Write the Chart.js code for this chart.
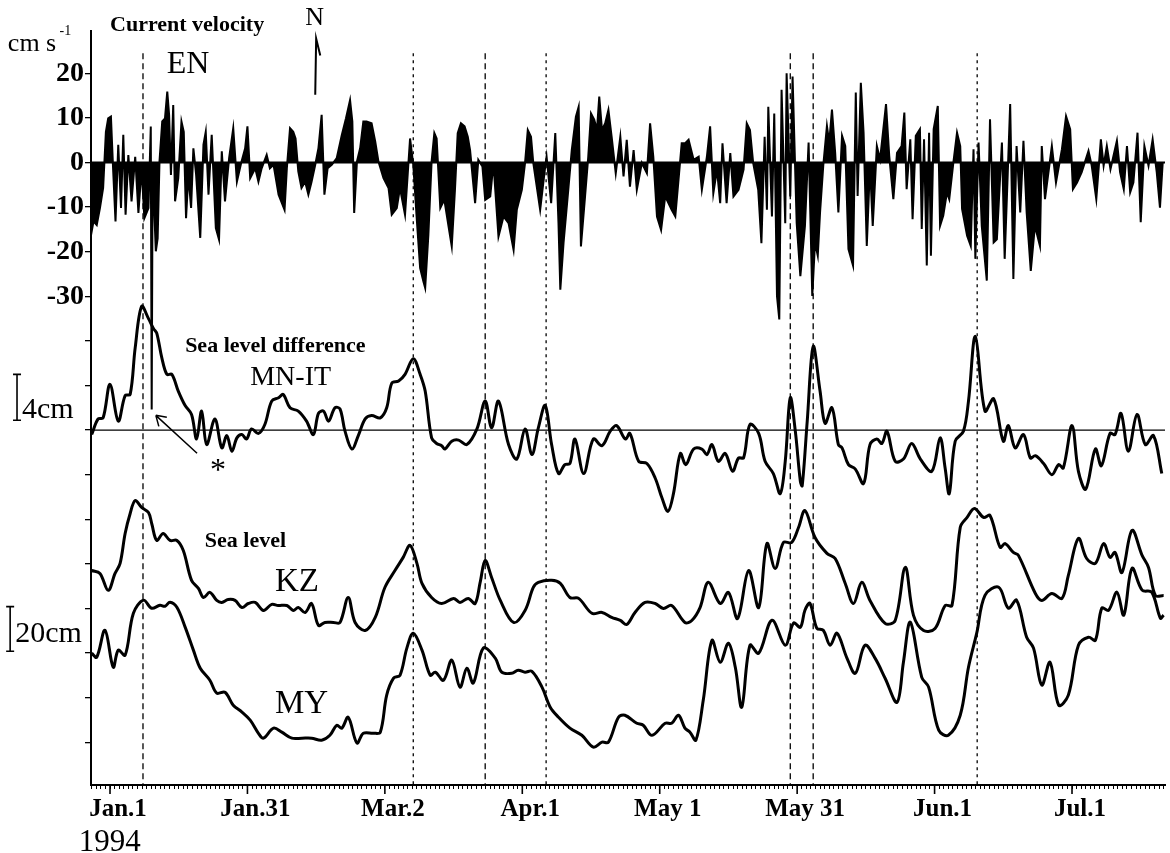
<!DOCTYPE html>
<html>
<head>
<meta charset="utf-8">
<script src="https://cdn.jsdelivr.net/npm/chart.js@4.4.0/dist/chart.umd.min.js"></script>
<style>
  html, body { margin: 0; padding: 0; background: #fff; }
  canvas { display: block; }
</style>
</head>
<body>
<canvas id="c" width="1170" height="853"></canvas>
<script>
// x = days from Jan.1 1994, y axis in cm/s (velocity panel); the lower panels are
// offset/scaled into the same axis (4 cm of MN-IT = 20 cm of sea level = 10 cm/s)

// tick labels on the time axis (every 30 days, as printed on the figure)
const tickDays = [0, 30, 60, 90, 120, 150, 180, 210];
const tickLabels = ['Jan.1', 'Jan.31', 'Mar.2', 'Apr.1', 'May 1', 'May 31', 'Jun.1', 'Jul.1'];
const yTickMarks = [20, 10, 0, -10, -20, -30, -40, -50, -60, -70, -80, -90, -100, -110, -120, -130];
const yTickLabels = [20, 10, 0, -10, -20, -30];

// dashed event lines (days)
const eventDays = [7.2, 66.2, 81.9, 95.2, 148.5, 153.5, 189.3];

// current velocity EN (cm/s), read at the spikes
const velDay = [-4.4,-3.6,-2.9,-2.2,-1.5,-0.9,-0.4,0.2,0.7,1.2,1.8,2.4,2.9,3.4,4.0,4.7,5.5,6.2,6.9,7.5,8.4,8.9,9.1,9.3,10.0,10.4,10.8,11.4,12.0,12.5,12.9,13.3,13.8,14.2,14.9,15.6,16.1,16.6,17.1,17.7,18.2,18.8,19.7,20.4,20.9,21.5,22.2,23.1,23.8,24.4,25.1,26.0,26.9,27.7,28.7,29.5,30.0,30.6,31.7,32.4,33.1,34.2,34.9,35.7,36.8,38.1,38.6,39.3,40.0,40.5,41.1,41.8,42.6,43.3,44.0,44.8,45.5,46.2,46.8,47.5,48.4,49.5,50.6,51.5,52.4,52.9,53.3,53.9,54.6,55.3,56.0,57.1,57.9,58.6,59.7,60.8,61.5,62.6,63.3,64.4,65.5,66.2,67.0,67.7,68.4,68.8,69.5,70.2,70.8,71.3,72.1,72.8,
  73.1,73.9,74.6,75.3,75.9,76.6,77.4,78.1,78.6,79.7,80.4,81.3,81.9,83.0,83.7,84.8,85.9,87.0,88.1,88.8,89.9,90.6,91.2,91.9,92.4,93.9,95.0,95.3,96.3,97.2,97.9,98.3,99.0,100.1,100.8,101.7,102.3,102.8,103.7,104.4,105.0,105.7,106.3,106.8,107.4,108.1,108.8,109.5,110.4,111.4,112.1,112.8,113.5,114.3,115.0,116.1,117.2,117.9,118.6,119.4,120.3,121.2,121.9,122.6,123.4,124.1,124.8,125.5,126.3,127.4,128.5,129.2,130.3,131.0,131.7,132.5,133.2,133.7,134.6,135.4,136.1,137.2,138.3,139.0,139.7,140.4,141.5,142.2,142.9,143.4,143.7,144.5,145.0,145.6,146.1,146.6,147.4,147.7,148.5,149.0,149.9,150.7,
  151.7,152.5,153.3,153.9,154.5,155.0,155.7,156.5,157.0,157.6,158.3,159.0,159.8,160.5,161.2,162.2,162.8,163.2,163.9,164.5,165.2,165.9,166.5,167.4,168.1,169.4,170.1,171.0,171.8,172.8,173.4,173.9,174.7,175.2,175.9,176.8,177.2,177.7,178.3,178.8,179.2,179.8,180.7,181.2,181.9,182.7,183.2,184.1,184.9,185.6,186.0,187.1,187.9,188.5,188.9,189.6,190.3,191.4,192.1,192.9,193.6,194.7,195.3,195.9,196.5,197.2,197.9,198.7,199.4,200.1,201.0,201.9,203.0,203.4,204.1,205.6,206.5,207.8,208.7,209.6,210.2,211.1,212.1,213.6,214.3,215.3,216.3,216.9,217.6,218.4,219.8,220.5,221.3,222.0,222.7,223.4,224.3,225.0,225.8,226.7,227.6,228.5,229.2,229.8];
const velCms = [-17.7,-13.2,-14,-10.2,-5.7,6.9,9.9,10.3,-2,-13.2,4,-10.2,6.2,-11.7,1.7,-8.7,1.3,-11.3,-1.3,-12.5,-10.2,8.1,-55.4,-1.3,-19.9,-17,0.2,9.2,9.9,15.9,10.7,-2.8,12.9,-8.7,-3.5,9.2,6.9,-12.5,-2.8,-10.2,3.2,-2.8,-16.9,4,6.9,-7.2,6.2,-14.7,-17.3,2.5,-8.7,1,7.7,-4.3,0.2,3.2,8.1,-3.5,-1.3,-4.3,-1.3,1.7,-1.3,-0.5,-7.2,-10.6,-1.3,7.7,6.9,5.4,-2,-5.7,-4.3,-7.2,-4.3,-0.5,3.2,10.7,-7.2,-1.3,-0.5,1,6.2,9.9,14,9.2,-11.3,0.2,3.2,9.2,9.2,8.8,4.7,0.2,-3.5,-5.7,-11.7,-10.2,-5.7,-11.7,5.4,-0.5,-13.2,-23.7,-26.6,-28.1,-16.2,0.2,6.6,5.4,-10.2,-8.7,
  -9.1,-14.3,-18.8,-6.1,6.6,8.8,8.1,5.8,2.8,-9.1,0.6,-0.9,-8.4,-7.6,-0.1,-16.6,-12.1,-13.6,-19.6,-10.6,-6.1,-0.1,7.3,5.8,-0.1,-10.6,-0.9,1.3,-9.1,6.6,-13.6,-28.5,-18.1,-5.4,2.8,10.3,12.5,-18.8,-7.6,1.3,11,9.6,7.3,14.8,7.3,8.8,11.8,5.8,-2.4,5.8,-3.1,5.1,-5.4,2.8,-6.1,-0.1,-2.4,8.8,1.3,-12.1,-15.1,-7.6,-9.1,-10.6,-12.1,-3.9,4.3,4.3,5.1,0.6,1.3,-6.1,1.3,8.1,-6.9,-1.6,-9.1,4.3,-9.1,2.1,-7.6,-6.1,-1.6,8.8,7.3,-0.1,-6.1,-18.1,5.8,-10.6,12.5,-12.1,11,-30,-35.2,16.3,-13.6,20,-7.6,19.3,-13.6,-25.5,
  -14.2,4.5,-29.9,-17.9,-20.9,-11.2,-0.7,8.2,4.5,11.9,2.2,-11.2,6,3.7,-19.4,-23.1,15.7,-7.5,17.9,6.7,-18.7,-0.7,-14.2,3.7,0.7,13.1,1.5,-8.2,2.2,3.7,11.2,-6,5.2,-12.7,6,7.5,-14.9,5.2,-23.1,6.7,-20.9,7.5,12.7,-14.2,-11.9,-6.7,-8.2,0,6.7,3.7,-10.4,-16.4,-18.7,3,-21.6,4.5,-14.2,-26.5,9.7,-17.9,-17.2,4.5,-21.6,-4.5,13.1,-26.1,3.7,-11.2,4.9,-11.2,-24.3,-14.2,-18.7,3.7,-8.2,3.7,-4.5,3,10.4,7.5,-6,-4.5,-2.2,2.6,-0.7,-8.2,5.2,-0.7,3.7,-1.5,4.9,-2.2,-6,3.7,-6.7,-4.5,6.7,-13.4,3.7,-0.7,5.2,-2.2,-10.1,0];

// sea level difference MN-IT (cm)
const mnitDay = [-4.0,-2.6,-1.5,0.0,1.8,3.3,4.4,5.5,6.9,8.4,9.5,10.2,11.3,12.4,13.5,14.9,16.4,17.8,18.9,20.0,21.1,22.9,24.4,25.5,26.6,27.7,28.8,29.8,30.9,32.4,33.8,35.3,36.8,37.8,39.3,41.1,42.9,44.4,45.5,46.6,47.7,49.1,50.2,51.3,52.8,54.2,55.7,57.1,59.0,60.4,61.5,63.0,64.4,66.2,67.7,68.8,70.2,71.3,72.4,
  73.1,74.6,76.1,77.9,80.1,81.9,83.3,84.8,87.0,88.8,90.6,92.1,93.5,95.0,96.4,97.9,99.3,100.4,101.5,103.4,105.5,107.4,109.2,110.6,112.5,113.5,115.4,117.2,119.0,120.5,121.8,123.0,124.5,125.7,127.4,129.2,130.3,131.4,132.8,134.3,135.9,137.2,138.3,139.7,141.6,143.0,144.8,146.3,147.4,148.5,149.6,150.7,151.1,152.2,153.5,
  155.0,156.1,157.6,159.0,159.8,161.2,162.7,164.5,165.9,167.4,168.5,169.6,171.4,173.2,175.0,176.9,179.4,181.2,182.3,183.2,184.5,186.3,187.4,188.9,191.0,192.9,195.0,196.1,197.6,199.4,200.9,202.0,203.8,205.6,207.1,208.1,210.0,211.4,213.0,215.1,216.4,218.3,219.4,220.7,222.3,224.2,226.0,227.8,229.6];
const mnitCm = [-0.4,1.0,1.1,4.1,0.8,3.1,3.2,7.4,11.1,10.0,9.1,8.7,6.5,5.0,5.0,3.5,2.2,1.4,-0.8,1.7,-1.3,1.0,-1.6,-0.5,-1.9,-0.7,-0.4,-0.8,0.1,-0.3,0.5,2.6,2.9,3.2,2.0,1.7,0.8,-0.4,1.5,1.7,0.8,2.0,1.9,-0.1,-1.7,-0.5,1.0,1.3,1.1,2.0,4.2,4.4,5.0,6.4,5.0,3.5,-0.7,-1.2,-1.4,
  -1.7,-1.0,-0.9,-1.3,0.1,2.6,0.2,2.6,-1.3,-2.6,0.1,-2.2,0.2,2.2,-1.3,-3.9,-3.1,-3.0,-0.8,-3.9,-0.8,-1.4,-0.1,0.4,-0.8,-0.3,-2.8,-3.0,-4.3,-6.1,-7.3,-5.7,-2.1,-3.1,-1.7,-1.7,-2.2,-1.3,-2.8,-2.1,-3.7,-2.5,-2.5,0.5,-0.3,-2.8,-3.9,-5.7,-2.8,2.9,-0.1,-4.6,-5.0,0.8,7.5,
  3.5,0.6,2.0,-1.3,-1.6,-3.1,-3.5,-4.8,-1.3,-0.8,-1.2,-0.1,-2.8,-2.6,-1.2,-2.6,-3.7,-0.7,-3.4,-5.7,-1.0,-0.1,2.6,8.4,1.7,2.8,-1.0,0.4,-1.6,-0.4,-2.5,-2.3,-3.0,-4.0,-3.1,-3.4,0.4,-3.7,-5.3,-1.7,-3.2,-0.3,-0.4,1.5,-1.9,1.4,-1.3,-0.5,-3.9];

// sea level KZ (cm, arbitrary datum)
const kzDay = [-4.0,-2.2,-0.4,1.1,2.2,3.3,4.4,5.5,6.9,8.4,9.1,10.2,11.6,13.1,14.6,16.0,17.8,19.3,20.4,21.8,23.3,24.4,25.8,27.3,28.8,30.2,31.7,33.5,35.3,36.7,38.6,40.0,41.1,42.6,44.0,45.5,46.9,48.8,50.2,52.0,53.5,55.7,57.9,60.0,62.2,64.0,65.5,67.0,68.1,70.2,72.4,
  75.0,76.4,78.2,79.7,80.8,81.9,83.3,85.2,88.1,90.6,92.4,93.5,96.4,98.3,100.4,102.3,105.2,107.4,109.5,111.4,112.8,114.6,116.8,119.0,120.8,122.6,125.5,127.0,128.8,130.6,133.2,135.0,137.0,139.4,141.6,143.4,145.2,147.0,148.8,150.3,151.7,
  153.9,156.5,158.3,160.5,162.3,164.1,165.9,169.2,171.4,173.6,175.4,177.6,180.1,182.3,183.8,185.6,187.1,188.7,190.7,192.1,194.3,195.4,197.2,198.3,202.0,203.4,205.6,207.8,209.2,211.4,213.2,215.1,216.9,218.3,219.4,220.9,223.1,225.3,226.7,228.2,230.0];
const kzCm = [17.0,15.7,8.1,15.7,20.2,33.6,42.6,48.4,45.3,43.0,38.1,30.5,33.6,30.5,30.5,26.0,12.6,9.0,4.9,7.2,3.6,2.7,4.0,3.6,0.4,2.2,2.7,-0.9,1.8,1.3,1.3,-0.9,0.4,-1.8,2.2,-7.6,-6.3,-6.3,-6.3,4.9,-6.3,-9.9,-4.0,9.4,17.0,22.9,28.3,20.2,11.2,4.9,2.2,
  4.5,2.7,4.5,2.2,11.7,21.5,13.9,3.6,-6.3,-0.9,9.4,11.7,12.6,11.2,4.9,4.5,-2.2,-1.8,-4.0,-5.4,-7.2,-1.8,2.7,2.2,0,1.3,-6.3,-5.4,0.4,11.7,2.2,7.2,-4.5,17.0,0.4,29.1,17.9,29.6,29.6,36.3,43.9,
  31.8,24.7,22.4,11.2,2.2,11.7,3.6,-6.7,-5.4,18.4,-3.1,-9.9,-9.0,1.3,1.3,36.3,40.8,44.8,40.8,41.7,27.4,29.1,25.1,23.8,6.7,3.6,6.7,4.5,14.8,31.4,22.4,20.2,29.1,22.9,25.1,16.1,35.0,23.8,18.4,5.8,5.8];

// sea level MY (cm, arbitrary datum)
const myDay = [-4.0,-2.9,-1.1,0.7,1.8,3.3,5.1,7.3,9.1,10.9,12.0,13.1,14.6,16.4,18.2,19.7,21.8,23.3,25.1,26.9,28.8,30.6,32.4,33.5,35.7,37.5,39.7,41.9,44.0,46.2,48.0,49.5,50.6,52.0,53.9,55.3,57.5,59.0,60.4,61.9,63.3,64.8,66.2,68.1,69.9,71.0,72.8,
  74.6,76.4,77.9,79.3,81.5,84.1,85.5,87.7,89.1,90.6,92.1,94.3,96.1,97.9,100.4,103.0,105.5,107.4,108.8,111.0,112.4,115.0,116.4,118.3,121.2,122.6,124.1,125.5,126.6,127.9,129.5,131.4,133.2,135.0,136.5,137.9,139.7,141.6,144.5,147.4,149.2,150.7,151.7,
  152.8,154.3,155.7,157.2,158.7,160.8,162.7,164.8,167.0,169.2,171.8,173.2,174.7,177.2,178.7,180.9,183.0,185.6,187.4,189.2,191.0,194.0,196.1,197.9,200.1,201.6,203.4,205.2,207.1,209.2,211.4,213.6,215.1,216.5,218.0,219.8,221.3,223.1,225.3,227.4,229.3,230.0];
const myCm = [39.9,38.1,50.2,33.6,41.3,39.0,57.8,63.7,60.1,61.4,61.0,62.8,60.5,51.6,41.3,33.2,27.8,22.0,22.4,16.6,13.5,9.9,4.0,1.8,6.3,4.5,1.8,1.8,1.8,0.9,3.1,7.6,6.3,11.2,-0.4,4.0,4.0,4.5,21.1,28.7,30.0,42.2,48.9,41.3,30.0,31.4,27.8,
  36.8,24.7,33.2,26.5,42.2,37.7,31.4,30.9,32.3,31.4,31.8,24.7,15.7,11.2,6.3,3.1,-2.2,0,0,11.2,12.1,8.5,7.6,3.1,8.5,8.5,12.1,6.3,4.5,0.9,18.8,45.7,35.9,44.4,33.6,15.7,43.5,39.9,54.7,43.5,53.4,51.6,59.2,
  62.3,51.1,50.2,43.5,48.9,38.1,30.9,43.5,37.7,28.7,17.9,35.9,53.8,29.1,24.7,5.4,3.1,12.1,33.6,48.9,65.9,69.5,60.1,63.7,47.1,42.2,25.6,35.9,16.6,21.1,43.5,47.1,45.7,60.1,59.2,67.3,57.0,78.0,68.2,67.3,55.6,57.0];

const FONT = '"Liberation Serif", "Times New Roman", serif';

// panel placement on the common axis
const mnitZero = -60, mnitScale = 2.5;
const kzZero = -100, myZero = -130, seaScale = 0.5;
const xMin = -4.15, xMax = 230.3, yMin = -139.6, yMax = 29.5, eventTop = 24.5;

const pts = (days, vals, f) => days.map((d, i) => ({ x: d, y: f(vals[i]) }));

const curve = (data) => ({
  data, borderColor: '#000', borderWidth: 3, pointRadius: 0,
  tension: 0.35, fill: false
});

const hline = (u, w) => ({
  data: [{ x: xMin, y: u }, { x: xMax, y: u }],
  borderColor: '#000', borderWidth: w, pointRadius: 0, fill: false
});

const datasets = [
  {
    data: pts(velDay, velCms, v => v),
    borderColor: '#000', backgroundColor: '#000', borderWidth: 2,
    pointRadius: 0, tension: 0, fill: 'origin'
  },
  hline(0, 2),
  hline(mnitZero, 1.2),
  curve(pts(mnitDay, mnitCm, v => mnitZero + v * mnitScale)),
  curve(pts(kzDay, kzCm, v => kzZero + v * seaScale)),
  curve(pts(myDay, myCm, v => myZero + v * seaScale))
];

eventDays.forEach((d, i) => {
  datasets.push({
    data: [{ x: d, y: eventTop }, { x: d, y: yMin }],
    borderColor: '#000', borderWidth: 1.3, pointRadius: 0, fill: false,
    borderDash: (i === 1 || i === 3 || i === 6) ? [3, 4] : [6, 4]
  });
});

// text and small drawn marks, positioned in axis units (day, cm/s)
const notes = [
  { t: 'Current velocity', d: 0, u: 29.6, f: 'bold 22px' },
  { t: 'cm s', d: -22.3, u: 25.1, f: '26px' },
  { t: '-1', d: -11.0, u: 28.6, f: '14px' },
  { t: 'EN', d: 12.4, u: 20.0, f: '32px' },
  { t: 'N', d: 42.6, u: 30.8, f: '26px' },
  { t: 'Sea level difference', d: 16.4, u: -42.4, f: 'bold 22px' },
  { t: 'MN-IT', d: 30.6, u: -49.8, f: '28px' },
  { t: '4cm', d: -19.2, u: -57.2, f: '30px' },
  { t: '*', d: 21.8, u: -71.1, f: '32px' },
  { t: 'Sea level', d: 20.7, u: -86.3, f: 'bold 22px' },
  { t: 'KZ', d: 36.0, u: -96.2, f: '33px' },
  { t: '20cm', d: -20.7, u: -107.6, f: '30px' },
  { t: 'MY', d: 36.0, u: -123.5, f: '33px' },
  { t: '1994', d: -6.8, u: -154.3, f: '31px' }
];

const annotations = {
  id: 'annotations',
  afterDraw(chart) {
    const { ctx, chartArea } = chart;
    const x = chart.scales.x, y = chart.scales.y;
    const X = d => x.getPixelForValue(d), Y = u => y.getPixelForValue(u);
    ctx.save();
    ctx.fillStyle = '#000';
    ctx.strokeStyle = '#000';

    // longer ticks at the labelled dates
    ctx.lineWidth = 1.6;
    tickDays.forEach(d => {
      ctx.beginPath();
      ctx.moveTo(X(d), chartArea.bottom);
      ctx.lineTo(X(d), chartArea.bottom + 9);
      ctx.stroke();
    });

    ctx.textBaseline = 'alphabetic';
    ctx.textAlign = 'left';
    notes.forEach(n => {
      ctx.font = n.f + ' ' + FONT;
      ctx.fillText(n.t, X(n.d), Y(n.u));
    });

    // scale brackets
    const bracket = (d, u0, u1) => {
      const px = X(d);
      ctx.lineWidth = 1.6;
      ctx.beginPath();
      ctx.moveTo(px, Y(u0)); ctx.lineTo(px, Y(u1));
      ctx.moveTo(px - 4, Y(u0)); ctx.lineTo(px + 4, Y(u0));
      ctx.moveTo(px - 4, Y(u1)); ctx.lineTo(px + 4, Y(u1));
      ctx.stroke();
    };
    bracket(-20.3, -47.5, -57.8);
    bracket(-21.8, -99.6, -109.6);

    // north arrow
    ctx.lineWidth = 2;
    ctx.beginPath();
    ctx.moveTo(X(44.8), Y(15.2)); ctx.lineTo(X(45.0), Y(27.8));
    ctx.lineTo(X(45.9), Y(24.0));
    ctx.stroke();

    // arrow to the spike
    ctx.lineWidth = 1.5;
    const ax = X(10.0), ay = Y(-56.7);
    ctx.beginPath();
    ctx.moveTo(X(19.0), Y(-65.2)); ctx.lineTo(ax, ay);
    ctx.moveTo(ax, ay); ctx.lineTo(ax + 11, ay + 2);
    ctx.moveTo(ax, ay); ctx.lineTo(ax + 3, ay + 11);
    ctx.stroke();
    ctx.restore();
  }
};

new Chart(document.getElementById('c'), {
  type: 'line',
  data: { datasets },
  options: {
    responsive: false,
    animation: false,
    layout: { padding: { top: 31, right: 5, left: 0, bottom: 0 } },
    plugins: { legend: { display: false }, tooltip: { enabled: false } },
    scales: {
      x: {
        type: 'linear', min: xMin, max: xMax,
        afterBuildTicks: s => {
          const t = [];
          for (let d = -4; d <= 230; d++) t.push({ value: d });
          s.ticks = t;
        },
        afterFit: s => { s.height = 68; },
        border: { display: true, color: '#000', width: 2 },
        grid: { drawOnChartArea: false, drawTicks: true, tickLength: 4, color: '#000', lineWidth: 1 },
        ticks: {
          autoSkip: false, maxRotation: 0, minRotation: 0, padding: 6, labelOffset: 8,
          color: '#000', font: { family: FONT, size: 25, weight: 'bold' },
          callback: v => {
            const i = tickDays.indexOf(v);
            return i >= 0 ? tickLabels[i] : '';
          }
        }
      },
      y: {
        min: yMin, max: yMax,
        afterBuildTicks: s => { s.ticks = yTickMarks.map(v => ({ value: v })); },
        afterFit: s => { s.width = 91; },
        border: { display: true, color: '#000', width: 2 },
        grid: { drawOnChartArea: false, drawTicks: true, tickLength: 6, color: '#000', lineWidth: 1.3 },
        ticks: {
          padding: 1, color: '#000', font: { family: FONT, size: 28, weight: 'bold' },
          callback: v => yTickLabels.includes(v) ? String(v) : ''
        }
      }
    }
  },
  plugins: [annotations]
});
</script>
</body>
</html>
